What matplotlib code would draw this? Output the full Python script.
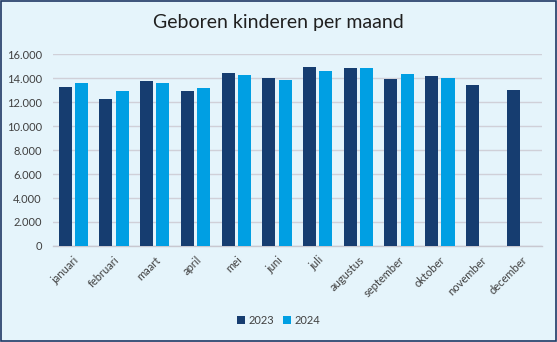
import matplotlib.pyplot as plt
import numpy as np

# Geboren kinderen per maand
maanden = ['januari', 'februari', 'maart', 'april', 'mei', 'juni', 'juli',
           'augustus', 'september', 'oktober', 'november', 'december']
geboren_2023 = [13250, 12250, 13750, 12930, 14430, 14010, 14930, 14850, 13930, 14180, 13430, 13010]
geboren_2024 = [13600, 12930, 13600, 13180, 14260, 13840, 14600, 14850, 14350, 14010]
y_ticks = [0, 2000, 4000, 6000, 8000, 10000, 12000, 14000, 16000]

plt.rcParams['font.family'] = ['Lato', 'DejaVu Sans']

bg = '#E5F4FB'
donker = '#163D70'
licht = '#009FE3'

fig = plt.figure(figsize=(5.57, 3.42), dpi=100, facecolor=bg)
ax = fig.add_axes([0.095, 0.281, 0.8775, 0.56], facecolor=bg)

x = np.arange(len(maanden))
ax.bar(x[:len(geboren_2023)] - 0.2, geboren_2023, width=0.32, color=donker, label='2023', zorder=3)
ax.bar(x[:len(geboren_2024)] + 0.2, geboren_2024, width=0.32, color=licht, label='2024', zorder=3)

ax.set_xlim(-0.5, len(maanden) - 0.5)
ax.set_ylim(0, 16000)
ax.set_yticks(y_ticks)
ax.set_yticklabels([f'{v:,}'.replace(',', '.') for v in y_ticks])
ax.set_xticks(x)
ax.set_xticklabels(maanden, rotation=45, ha='right', rotation_mode='anchor')
ax.tick_params(axis='both', length=0, labelsize=8, colors='#404040')
ax.tick_params(axis='x', pad=6)
ax.tick_params(axis='y', pad=8)
ax.grid(axis='y', color='#D0D0D8', linewidth=1, zorder=0)
for s in ['top', 'right', 'left']:
    ax.spines[s].set_visible(False)
ax.spines['bottom'].set_color('#C8C8D0')
ax.spines['bottom'].set_linewidth(1)

fig.text(0.5, 0.933, 'Geboren kinderen per maand', ha='center', va='center',
         fontsize=14, color='#202020')

fig.legend(loc='center', bbox_to_anchor=(0.5, 0.062), ncol=2, frameon=False,
           fontsize=8, handlelength=0.75, handleheight=0.75, handletextpad=0.3,
           columnspacing=0.8, labelcolor='#404040')

# rand om de figuur
fig.patches.append(plt.Rectangle((0.002, 0.003), 0.996, 0.994, transform=fig.transFigure,
                                 fill=False, edgecolor='#1F3864', linewidth=1.2))

fig.savefig('out.png', dpi=100, facecolor=bg)
